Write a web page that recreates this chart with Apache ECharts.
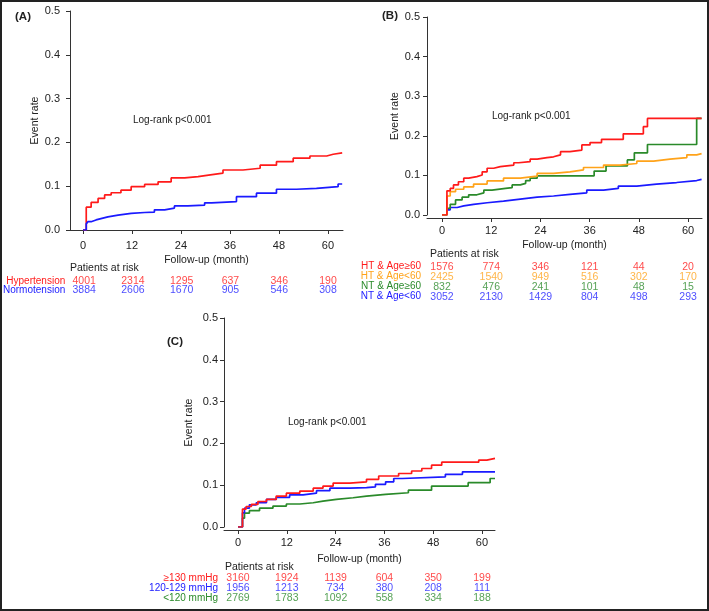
<!DOCTYPE html>
<html>
<head>
<meta charset="utf-8">
<script src="https://cdn.jsdelivr.net/npm/echarts@6/dist/echarts.min.js"></script>
<style>
html,body{margin:0;padding:0;background:#fff;}
#chart{width:709px;height:611px;}
</style>
</head>
<body>
<div id="chart"></div>
<script>
// ---------- data ----------
const tickMonths = [0, 12, 24, 36, 48, 60];

// Panel A
const aHyper = [[0,0],[0.8,0.052],[2,0.063],[3.7,0.072],[5.3,0.08],[6.9,0.085],[9.3,0.091],[11.8,0.099],[15.1,0.104],[18.4,0.11],[21.6,0.119],[24.9,0.122],[28.2,0.126],[31.2,0.13],[34.3,0.137],[39.2,0.141],[43.4,0.148],[47.4,0.156],[51.5,0.164],[55.6,0.169],[59.7,0.173],[61.3,0.176],[63.5,0.176]];
const aNormo = [[0,0],[0.8,0.014],[1.2,0.019],[2,0.023],[3.2,0.026],[4.4,0.03],[6.1,0.034],[8.6,0.038],[11.8,0.04],[15.1,0.041],[17.5,0.046],[20,0.05],[22.4,0.055],[25.7,0.057],[29.8,0.062],[31.5,0.065],[37.6,0.076],[42.5,0.084],[47.4,0.093],[52.3,0.095],[57.2,0.099],[62.5,0.105],[63.5,0.105]];
const aRowNames = ['Hypertension', 'Normotension'];
const aRiskHyper = [4001, 2314, 1295, 637, 346, 190];
const aRiskNormo = [3884, 2606, 1670, 905, 546, 308];

// Panel B
const bHTold = [[0,0],[1.2,0.061],[2,0.067],[2.8,0.076],[4,0.084],[5.3,0.093],[6.5,0.097],[8.5,0.101],[9.8,0.109],[11,0.118],[12.6,0.122],[14.2,0.126],[17.5,0.132],[18.7,0.135],[21.5,0.141],[23.2,0.145],[25.6,0.147],[27.2,0.152],[28.9,0.16],[31.2,0.164],[34.1,0.177],[36.1,0.183],[38.9,0.191],[44.2,0.205],[49.1,0.223],[50.1,0.244],[63.3,0.244]];
const bHTyoung = [[0,0],[1.2,0.048],[2,0.059],[3.3,0.065],[5.3,0.071],[7.7,0.078],[11,0.086],[15,0.093],[19.1,0.098],[23.2,0.105],[27.2,0.109],[31.2,0.114],[34.5,0.12],[39.4,0.126],[43.4,0.13],[47.5,0.136],[51.6,0.141],[55.6,0.145],[59.7,0.152],[62.1,0.155],[63.3,0.155]];
const bNTold = [[0,0],[1.2,0.017],[2,0.027],[3.3,0.038],[4.9,0.045],[6.5,0.051],[8.5,0.056],[10.2,0.063],[12.2,0.067],[15.5,0.069],[17.1,0.076],[19.1,0.08],[20.4,0.087],[21.5,0.093],[23.2,0.099],[37.1,0.111],[40,0.124],[45.2,0.139],[46.9,0.157],[50.1,0.178],[62.1,0.244],[63.3,0.244]];
const bNTyoung = [[0,0],[1.2,0.013],[2,0.019],[3.7,0.023],[5.3,0.027],[7.7,0.031],[11,0.035],[15,0.04],[19.1,0.045],[23.2,0.048],[27.2,0.052],[31.2,0.056],[35.3,0.063],[39.4,0.067],[43,0.073],[47.5,0.078],[52.3,0.082],[57.2,0.087],[62.1,0.09],[63.3,0.09]];
const bRowNames = ['HT & Age\u226560', 'HT & Age<60', 'NT & Age\u226560', 'NT & Age<60'];
const bRiskHTold = [1576, 774, 346, 121, 44, 20];
const bRiskHTyoung = [2425, 1540, 949, 516, 302, 170];
const bRiskNTold = [832, 476, 241, 101, 48, 15];
const bRiskNTyoung = [3052, 2130, 1429, 804, 498, 293];

// Panel C
const cHigh = [[0,0],[1.1,0.043],[2,0.049],[3.3,0.054],[4.9,0.061],[7,0.066],[9.4,0.074],[11.9,0.081],[15.2,0.086],[18.5,0.093],[20.9,0.098],[23.4,0.105],[27.5,0.108],[31.6,0.114],[34.6,0.122],[39.5,0.128],[42.7,0.134],[45.2,0.14],[47.6,0.148],[50.1,0.155],[59.2,0.16],[61.2,0.164],[63.2,0.164]];
const cMid = [[0,0],[1.1,0.034],[1.6,0.045],[2.8,0.053],[4.5,0.058],[7,0.066],[9.4,0.071],[12.7,0.077],[16,0.081],[19.3,0.087],[22.6,0.093],[27.5,0.094],[31.6,0.096],[33.8,0.102],[36.3,0.108],[38.3,0.116],[40.4,0.12],[51,0.126],[55.2,0.132],[63.2,0.132]];
const cLow = [[0,0],[1.1,0.021],[1.6,0.033],[2.8,0.039],[5.3,0.045],[8.6,0.05],[11.9,0.055],[15.2,0.058],[18.5,0.062],[20.9,0.066],[24.2,0.07],[28.3,0.074],[31.6,0.078],[36.3,0.082],[41.9,0.088],[47.6,0.098],[56.6,0.106],[62,0.116],[63.2,0.116]];
const cRowNames = ['\u2265130 mmHg', '120-129 mmHg', '<120 mmHg'];
const cRiskHigh = [3160, 1924, 1139, 604, 350, 199];
const cRiskMid = [1956, 1213, 734, 380, 208, 111];
const cRiskLow = [2769, 1783, 1092, 558, 334, 188];

// ---------- styling ----------
const RED = '#ff1a1a', BLUE = '#1a1aff', ORANGE = '#ffa31a', GREEN = '#2a8a2a';
const FONT = 'Liberation Sans, Arial, sans-serif';
const AXC = '#333';

const panels = [
  { grid: {left: 70, top: 11, width: 273, height: 219}, xmin: -3.18, xmax: 63.7, xoff: 0,
    xLabelMargin: 10, nameGap: 25, yLabelMargin: 10, yNameGap: 28,
    risk: {top: 276.4, height: 18.6}, rowNames: aRowNames,
    curves: [[aHyper, RED], [aNormo, BLUE]],
    rows: [[aRiskHyper, RED], [aRiskNormo, BLUE]] },
  { grid: {left: 427, top: 17, width: 275, height: 198}, xmin: -3.66, xmax: 63.4, xoff: 3,
    xLabelMargin: 7, nameGap: 22, yLabelMargin: 7, yNameGap: 25,
    risk: {top: 261.7, height: 40}, rowNames: bRowNames,
    curves: [[bNTyoung, BLUE], [bNTold, GREEN], [bHTyoung, ORANGE], [bHTold, RED]],
    rows: [[bRiskHTold, RED], [bRiskHTyoung, ORANGE], [bRiskNTold, GREEN], [bRiskNTyoung, BLUE]] },
  { grid: {left: 224, top: 318, width: 271, height: 209}, xmin: -3.44, xmax: 63.2, xoff: 3,
    xLabelMargin: 7, nameGap: 24, yLabelMargin: 6, yNameGap: 29,
    risk: {top: 573.3, height: 30}, rowNames: cRowNames,
    curves: [[cLow, GREEN], [cMid, BLUE], [cHigh, RED]],
    rows: [[cRiskHigh, RED], [cRiskMid, BLUE], [cRiskLow, GREEN]] }
];

const grid = [], xAxis = [], yAxis = [], series = [];
panels.forEach((p) => {
  const gi = grid.length;
  grid.push(Object.assign({containLabel: false}, p.grid));
  xAxis.push({
    type: 'value', gridIndex: gi, min: p.xmin, max: p.xmax, offset: p.xoff,
    splitLine: {show: false},
    axisLine: {show: true, onZero: false, lineStyle: {color: AXC, width: 1}},
    axisTick: {show: true, length: 4, customValues: tickMonths, lineStyle: {color: AXC}},
    axisLabel: {customValues: tickMonths, color: '#222', fontSize: 11, fontFamily: FONT, margin: p.xLabelMargin},
    name: 'Follow-up (month)', nameLocation: 'middle', nameGap: p.nameGap,
    nameTextStyle: {color: '#222', fontSize: 10.5, fontFamily: FONT}
  });
  yAxis.push({
    type: 'value', gridIndex: gi, min: 0, max: 0.5, interval: 0.1,
    splitLine: {show: false},
    axisLine: {show: true, onZero: false, lineStyle: {color: AXC, width: 1}},
    axisTick: {show: true, length: 4, lineStyle: {color: AXC}},
    axisLabel: {formatter: v => v.toFixed(1), color: '#222', fontSize: 11, fontFamily: FONT, margin: p.yLabelMargin},
    name: 'Event rate', nameLocation: 'middle', nameGap: p.yNameGap, nameRotate: 90,
    nameTextStyle: {color: '#222', fontSize: 10.5, fontFamily: FONT}
  });
  p.curves.forEach(([d, c]) => {
    series.push({
      type: 'line', xAxisIndex: gi, yAxisIndex: gi, data: d, step: 'end',
      symbol: 'none', lineStyle: {color: c, width: 1.7}, itemStyle: {color: c}, silent: true, z: 3
    });
  });
  // risk table grid
  const ri = grid.length;
  grid.push({left: p.grid.left, width: p.grid.width, top: p.risk.top, height: p.risk.height});
  xAxis.push({type: 'value', gridIndex: ri, min: p.xmin, max: p.xmax, show: false});
  const rowColors = p.rows.map(r => r[1]);
  yAxis.push({
    type: 'category', gridIndex: ri, data: p.rowNames, inverse: true,
    axisLine: {show: false}, axisTick: {show: false}, splitLine: {show: false},
    axisLabel: {interval: 0, color: (v, i) => rowColors[i], fontSize: 10, fontFamily: FONT, margin: 6}
  });
  p.rows.forEach(([vals, c], r) => {
    series.push({
      type: 'scatter', xAxisIndex: ri, yAxisIndex: ri, symbolSize: 1,
      itemStyle: {color: 'rgba(0,0,0,0)'}, silent: true,
      data: vals.map((v, i) => [tickMonths[i], r, v]),
      label: {show: true, position: 'inside', formatter: q => q.value[2], color: c,
              fontSize: 10.5, fontFamily: FONT}
    });
  });
});

const txt = (x, y, s, extra) => ({type: 'text', left: x, top: y,
  style: Object.assign({text: s, fill: '#222', font: '10.5px ' + FONT}, extra || {})});

const graphic = [
  {type: 'rect', shape: {x: 1, y: 1, width: 707, height: 609}, style: {fill: 'none', stroke: '#222', lineWidth: 2}},
  txt(15, 11, '(A)', {font: 'bold 11.5px ' + FONT}),
  txt(382, 10, '(B)', {font: 'bold 11.5px ' + FONT}),
  txt(167, 336, '(C)', {font: 'bold 11.5px ' + FONT}),
  txt(133, 115, 'Log-rank p<0.001', {font: '10px ' + FONT}),
  txt(492, 111, 'Log-rank p<0.001', {font: '10px ' + FONT}),
  txt(288, 417, 'Log-rank p<0.001', {font: '10px ' + FONT}),
  txt(70, 263, 'Patients at risk'),
  txt(430, 249, 'Patients at risk'),
  txt(225, 562, 'Patients at risk')
];

const chart = echarts.init(document.getElementById('chart'), null, {renderer: 'canvas'});
chart.setOption({animation: false, backgroundColor: '#fff', grid, xAxis, yAxis, series, graphic});
</script>
</body>
</html>
